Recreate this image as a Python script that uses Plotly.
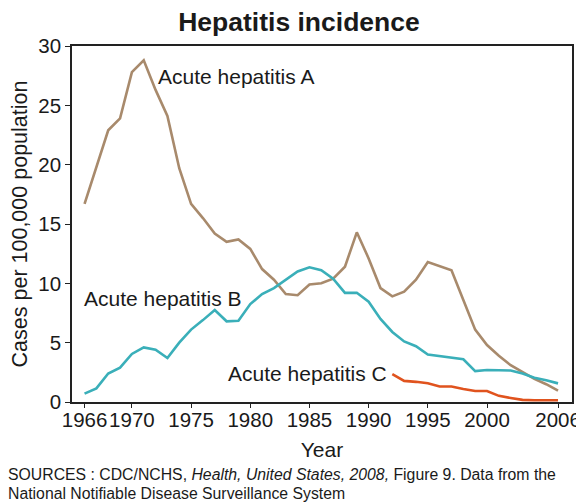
import plotly.graph_objects as go

years_a = list(range(1966, 2007))
hep_a = [16.7, 19.8, 22.9, 23.9, 27.8, 28.8, 26.3, 24.1, 19.7, 16.7, 15.5, 14.2, 13.5, 13.7, 12.9,
         11.2, 10.3, 9.1, 9.0, 9.9, 10.0, 10.4, 11.4, 14.3, 12.1, 9.6, 8.9, 9.3, 10.3, 11.8,
         11.45, 11.1, 8.6, 6.1, 4.8, 3.9, 3.1, 2.5, 1.95, 1.5, 0.95]
years_b = list(range(1966, 2007))
hep_b = [0.7, 1.15, 2.4, 2.9, 4.05, 4.6, 4.4, 3.7, 5.0, 6.1, 6.9, 7.75, 6.8, 6.85, 8.25,
         9.1, 9.6, 10.3, 11.0, 11.35, 11.1, 10.4, 9.2, 9.2, 8.45, 7.0, 5.9, 5.1, 4.7, 4.0,
         3.85, 3.75, 3.6, 2.6, 2.7, 2.68, 2.65, 2.4, 2.05, 1.83, 1.57]
years_c = list(range(1992, 2007))
hep_c = [2.35, 1.78, 1.7, 1.58, 1.3, 1.3, 1.1, 0.93, 0.93, 0.52, 0.34, 0.18, 0.15, 0.15, 0.15]

tick_vals = [1966, 1970, 1975, 1980, 1985, 1990, 1995, 2000, 2006]
tick_text = [str(v) for v in tick_vals]

FONT = "Liberation Sans, Arial, Helvetica, sans-serif"
OFF = 8  # page body margin
W, H = 584 - OFF, 502 - OFF
L, R, T, B = 72 - OFF, 12, 46 - OFF, 100
PW, PH = W - L - R, H - T - B


def px_to_paper(sx, sy):
    fx, fy = sx - OFF, sy - OFF
    return (fx - L) / PW, (H - B - fy) / PH


fig = go.Figure()
fig.add_trace(go.Scatter(x=years_a, y=hep_a, mode="lines", line=dict(color="#A88A6C", width=2.6),
                         name="Acute hepatitis A", showlegend=False))
fig.add_trace(go.Scatter(x=years_b, y=hep_b, mode="lines", line=dict(color="#3AAFB9", width=2.6),
                         name="Acute hepatitis B", showlegend=False))
fig.add_trace(go.Scatter(x=years_c, y=hep_c, mode="lines", line=dict(color="#E0531E", width=2.6),
                         name="Acute hepatitis C", showlegend=False))

fig.update_layout(
    width=W, height=H,
    margin=dict(l=L, r=R, t=T, b=B, autoexpand=False),
    paper_bgcolor="white", plot_bgcolor="white",
    font=dict(family=FONT, color="#1a1a1a", size=20),
    title=dict(text="<b>Hepatitis incidence</b>", x=(299 - OFF) / W, xanchor="center", xref="container",
               y=1 - (22 - OFF) / H, yanchor="middle", font=dict(size=26.5, family=FONT, color="#1a1a1a")),
    xaxis=dict(range=[1964.94, 2007.18], tickvals=tick_vals, ticktext=tick_text, tickangle=0,
               ticks="outside", ticklen=4, tickwidth=1.2, tickcolor="#222",
               showline=True, linecolor="#222", linewidth=1.5, mirror=True,
               showgrid=False, zeroline=False, automargin=False, ticklabelstandoff=-5,
               tickfont=dict(size=20.5, family=FONT),
               title=dict(text="Year", font=dict(size=21, family=FONT), standoff=12)),
    yaxis=dict(range=[0, 30], tickvals=[0, 5, 10, 15, 20, 25, 30],
               ticks="outside", ticklen=5, tickwidth=1.2, tickcolor="#222",
               showline=True, linecolor="#222", linewidth=1.5, mirror=True,
               showgrid=False, zeroline=False, automargin=False,
               tickfont=dict(size=20.5, family=FONT),
               title=dict(text="Cases per 100,000 population", font=dict(size=21.5, family=FONT), standoff=6)),
)

ann_font = dict(size=21, family=FONT, color="#1a1a1a")
x, y = px_to_paper(156, 76)
fig.add_annotation(x=x, y=y, xref="paper", yref="paper", text="Acute hepatitis A", showarrow=False,
                   xanchor="left", yanchor="middle", font=ann_font)
x, y = px_to_paper(82, 298)
fig.add_annotation(x=x, y=y, xref="paper", yref="paper", text="Acute hepatitis B", showarrow=False,
                   xanchor="left", yanchor="middle", font=ann_font)
x, y = px_to_paper(389, 373)
fig.add_annotation(x=x, y=y, xref="paper", yref="paper", text="Acute hepatitis C", showarrow=False,
                   xanchor="right", yanchor="middle", font=ann_font)

src_font = dict(size=15.8, family=FONT, color="#1a1a1a")
x, y = px_to_paper(6, 474)
fig.add_annotation(x=x, y=y, xref="paper", yref="paper", xanchor="left", yanchor="middle",
                   text="SOURCES : CDC/NCHS, <i>Health, United States, 2008,</i> Figure 9. Data from the",
                   showarrow=False, font=src_font)
x, y = px_to_paper(6, 493)
fig.add_annotation(x=x, y=y, xref="paper", yref="paper", xanchor="left", yanchor="middle",
                   text="National Notifiable Disease Surveillance System",
                   showarrow=False, font=src_font)

fig.write_html("out.html")
